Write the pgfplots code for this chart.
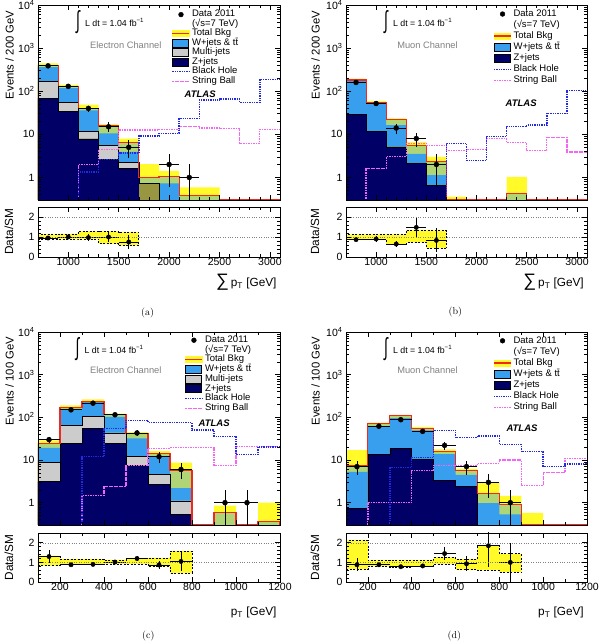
\documentclass[border=0pt]{standalone}
\usepackage{fontspec}
\setsansfont{Liberation Sans}
\renewcommand{\familydefault}{\sfdefault}
\usepackage{pgfplots}
\usepackage{pgfplotstable}
\pgfplotsset{compat=1.18}

\definecolor{wjblue}{RGB}{56,158,238}
\definecolor{mjgrey}{RGB}{204,204,204}
\definecolor{zjnavy}{RGB}{0,0,102}
\definecolor{bandyellow}{RGB}{255,250,40}
\definecolor{wjmix}{RGB}{175,213,119}
\definecolor{mjmix}{RGB}{235,232,106}
\definecolor{zjmix}{RGB}{153,150,65}
\definecolor{totred}{RGB}{240,40,30}
\definecolor{bhblue}{RGB}{35,40,225}
\definecolor{sbmag}{RGB}{245,100,245}
\definecolor{chgrey}{RGB}{128,128,128}

\newcommand{\tfont}{\fontsize{10.5}{12}\selectfont}
\newcommand{\lfont}{\fontsize{9.5}{10}\selectfont}
\newcommand{\yfont}{\fontsize{11.3}{13}\selectfont}
\newcommand{\xfont}{\fontsize{11.8}{13}\selectfont}

% Histograms by low bin edge. First and last rows sit on the floor (0.1) so the
% filled areas close; the row before the last repeats the final bin.
% hi = upper edge of the background uncertainty, tot = total background,
% tlo = min(tot, lower band edge), mj = Z+jets + multi-jets, mlo = min(mj, lower edge),
% z = Z+jets, zlo = min(z, lower edge), bh = black hole, sb = string ball
\pgfplotstableread{
x    hi    tot   tlo   mj    mlo   z     zlo   bh    sb
700  0.1   0.1   0.1   0.1   0.1   0.1   0.1   nan   nan
700  440   390   360   172   172   68    68    0.01  0.01
900  141   127   118   54    54    33.5  33.5  0.01  0.01
1100 49    39    36    11.9  11.9  7.8   7.8   1.35  2.0
1300 17    15.6  10.5  5.5   5.5   2.6   2.6   2.6   4.5
1500 8.0   6.5   3.9   2.2   2.2   1.6   1.6   3.7   12.6
1700 2.04  1.0   0.1   0.73  0.1   0.73  0.1   9.1   12.6
1900 1.43  1.07  0.73  0.01  0.01  0.01  0.01  10.5  13
2100 0.59  0.39  0.1   0.01  0.01  0.01  0.01  23.4  15.5
2300 0.59  0.39  0.1   0.01  0.01  0.01  0.01  62    14
2500 0.1   0.31  0.1   0.01  0.01  0.01  0.01  66    13.7
2700 0.1   0.31  0.1   0.01  0.01  0.01  0.01  55    6.2
2900 0.1   0.31  0.1   0.01  0.01  0.01  0.01  190   13.2
3100 0.1   0.31  0.1   0.01  0.01  0.01  0.01  190   13.2
3100 0.1   0.1   0.1   0.1   0.1   0.1   0.1   nan   nan
}\taba

\pgfplotstableread{
x    hi    tot   tlo   mj    mlo   z     zlo   bh    sb
700  0.1   0.1   0.1   0.1   0.1   0.1   0.1   nan   nan
700  195   182   172   29    29    29    29    0.01  0.01
900  59    56    50    11.9  11.9  11.9  11.9  0.01  1.6
1100 23.4  22    16.4  5.1   5.1   5.1   5.1   0.01  3.0
1300 6.7   5.6   3.5   2.1   2.1   2.1   2.1   0.01  6.2
1500 3.0   2.3   1.13  0.66  0.66  0.66  0.66  0.01  5.6
1700 0.36  0.31  0.1   0.01  0.01  0.01  0.01  6.2   4.2
1900 0.1   0.31  0.1   0.01  0.01  0.01  0.01  2.5   4.5
2100 0.1   0.31  0.1   0.01  0.01  0.01  0.01  8.8   8.0
2300 1.03  0.42  0.1   0.01  0.01  0.01  0.01  15    6.5
2500 0.1   0.31  0.1   0.01  0.01  0.01  0.01  16.4  4.2
2700 0.1   0.31  0.1   0.01  0.01  0.01  0.01  30.6  8.5
2900 0.1   0.31  0.1   0.01  0.01  0.01  0.01  103   3.9
3100 0.1   0.31  0.1   0.01  0.01  0.01  0.01  103   3.9
3100 0.1   0.1   0.1   0.1   0.1   0.1   0.1   nan   nan
}\tabb

\pgfplotstableread{
x    hi    tot   tlo   mj    mlo   z     zlo   bh    sb
100  0.1   0.1   0.1   0.1   0.1   0.1   0.1   nan   nan
100  29    24    19.3  8.7   8.7   3.1   3.1   0.01  0.01
200  190   167   158   65    65    24.4  24.4  0.01  0.01
300  262   239   226   105   105   54.5  54.5  11.9  1.5
400  122   115   102   43    43    25    25    54.5  2.4
500  45    41    32    12    12    7.4   7.4   85    7.4
600  16.2  14.3  12    4.6   4.6   2.7   2.7   75    18.7
700  8.7   5.6   2.2   1.1   1.1   0.53  0.53  75    19.3
800  0.1   0.31  0.1   0.01  0.01  0.01  0.01  50    19.3
900  0.85  0.58  0.1   0.01  0.01  0.01  0.01  36    7.4
1000 0.1   0.31  0.1   0.01  0.01  0.01  0.01  13.5  20.4
1100 1.0   0.37  0.1   0.01  0.01  0.01  0.01  20.4  20.4
1200 1.0   0.37  0.1   0.01  0.01  0.01  0.01  20.4  20.4
1200 0.1   0.1   0.1   0.1   0.1   0.1   0.1   nan   nan
}\tabc

\pgfplotstableread{
x    hi    tot   tlo   mj    mlo   z     zlo   bh    sb
100  0.1   0.1   0.1   0.1   0.1   0.1   0.1   nan   nan
100  17    7.6   5.3   0.72  0.72  0.72  0.72  0.01  0.01
200  75    71    61.6  13.5  13.5  13.5  13.5  0.01  1.0
300  115   111   96    18.7  18.7  18.7  18.7  6.6   1.0
400  59    56    49.6  10.3  10.3  10.3  10.3  11.3  5.6
500  17.7  16.2  13.8  3.3   3.3   3.3   3.3   49.6  7.6
600  6.2   5.8   4.5   2.4   2.4   2.4   2.4   33.5  7.4
700  2.86  1.68  0.98  0.01  0.01  0.01  0.01  36.6  8.4
800  1.45  0.9   0.53  0.01  0.01  0.01  0.01  23.1  10
900  0.58  0.31  0.1   0.01  0.01  0.01  0.01  15.6  2.5
1000 0.1   0.31  0.1   0.01  0.01  0.01  0.01  7     5
1100 0.1   0.31  0.1   0.01  0.01  0.01  0.01  8.1   10.9
1200 0.1   0.31  0.1   0.01  0.01  0.01  0.01  8.1   10.9
1200 0.1   0.1   0.1   0.1   0.1   0.1   0.1   nan   nan
}\tabd

% Data/SM uncertainty bands: fhi/flo filled, hl/ll outlines
\pgfplotstableread{
x    fhi   flo   hl    ll
700  0     0     0.9   nan
700  1.12  0.9   1.12  0.9
900  1.15  0.9   1.15  0.9
1100 1.28  0.9   1.28  0.9
1300 1.28  0.67  1.28  0.67
1500 1.23  0.58  1.23  0.58
1700 1.23  0.58  1.23  0.58
1700 0     0     0.58  nan
}\rata
\pgfplotstableread{
x    fhi   flo   hl    ll
700  0     0     0.87  nan
700  1.12  0.87  1.12  0.87
900  1.12  0.9   1.12  0.9
1100 1.12  0.62  1.12  0.62
1300 1.33  0.73  1.33  0.73
1500 1.32  0.45  1.32  0.45
1700 1.32  0.45  1.32  0.45
1700 0     0     0.45  nan
}\ratb
\pgfplotstableread{
x    fhi   flo   hl    ll
100  0     0     0.83  nan
100  1.33  0.83  1.33  0.83
200  1.17  0.88  1.17  0.88
300  1.17  0.88  1.17  0.88
400  1.13  0.92  1.13  0.92
500  1.22  0.92  1.22  0.92
600  1.22  0.8   1.22  0.8
700  1.57  0.46  1.57  0.46
800  1.57  0.46  1.57  0.46
800  0     0     0.46  nan
}\ratc
\pgfplotstableread{
x    fhi   flo   hl    ll
100  0     0     0.66  nan
100  2.13  0.66  2.13  0.66
200  1.1   0.8   1.1   0.8
300  1.1   0.77  1.1   0.77
400  1.1   0.8   1.1   0.8
500  1.25  0.92  1.25  0.92
600  1.17  0.63  1.17  0.63
700  1.88  0.6   1.88  0.6
800  1.44  0.5   1.44  0.5
900  1.44  0.5   1.44  0.5
900  0     0     0.5   nan
}\ratd

% stacked backgrounds with the uncertainty band blended over them, then signals
\newcommand{\drawmain}[1]{%
  \addplot[const plot, fill=bandyellow, draw=none, forget plot] table[x=x,y=hi]{#1};
  \addplot[const plot, fill=wjmix, draw=none, forget plot] table[x=x,y=tot]{#1};
  \addplot[const plot, fill=wjblue, draw=none, forget plot] table[x=x,y=tlo]{#1};
  \addplot[const plot, fill=mjmix, draw=none, forget plot] table[x=x,y=mj]{#1};
  \addplot[const plot, fill=mjgrey, draw=none, forget plot] table[x=x,y=mlo]{#1};
  \addplot[const plot, fill=zjmix, draw=none, forget plot] table[x=x,y=z]{#1};
  \addplot[const plot, fill=zjnavy, draw=none, forget plot] table[x=x,y=zlo]{#1};
  \addplot[const plot, black, line width=0.6pt, forget plot] table[x=x,y=mj]{#1};
  \addplot[const plot, black, line width=0.6pt, forget plot] table[x=x,y=z]{#1};
  \addplot[const plot, totred, line width=1.1pt, forget plot] table[x=x,y=tot]{#1};
  \addplot[const plot, sbmag, line width=1.2pt, dash pattern=on 1.6pt off 0.9pt, forget plot] table[x=x,y=sb]{#1};
  \addplot[const plot, bhblue, line width=1.4pt, dash pattern=on 1.3pt off 1pt, forget plot] table[x=x,y=bh]{#1};
}

\newcommand{\drawratio}[1]{%
  \addplot[const plot, fill=bandyellow, draw=none, forget plot] table[x=x,y=fhi]{#1};
  \addplot[const plot, fill=white, draw=none, forget plot] table[x=x,y=flo]{#1};
  \addplot[const plot, black, line width=0.7pt, dash pattern=on 2pt off 1.5pt, forget plot] table[x=x,y=hl]{#1};
  \addplot[const plot, black, line width=0.7pt, dash pattern=on 2pt off 1.5pt, forget plot] table[x=x,y=ll]{#1};
}

\newcommand{\legtop}{%
  \addlegendimage{only marks, mark=*, mark size=2.4pt, black}
  \addlegendentry{Data 2011}
  \addlegendimage{empty legend}
  \addlegendentry{(√s=7 TeV)}
  \addlegendimage{legend image code/.code={\fill[bandyellow] (0pt,-3pt) rectangle (16.6pt,3pt);
    \draw[totred, line width=1.5pt] (0pt,0pt) -- (16.6pt,0pt);}}
  \addlegendentry{Total Bkg}
  \addlegendimage{legend image code/.code={\draw[fill=wjblue, line width=0.6pt] (0.3pt,-4pt) rectangle (16.3pt,4pt);}}
  \addlegendentry{W+jets {\&} tt̄}
}
\newcommand{\legmj}{%
  \addlegendimage{legend image code/.code={\draw[fill=mjgrey, line width=0.6pt] (0.3pt,-4pt) rectangle (16.3pt,4pt);}}
  \addlegendentry{Multi-jets}
}
\newcommand{\legbottom}{%
  \addlegendimage{legend image code/.code={\draw[fill=zjnavy, line width=0.6pt] (0.3pt,-4pt) rectangle (16.3pt,4pt);}}
  \addlegendentry{Z+jets}
  \addlegendimage{legend image code/.code={\draw[bhblue, line width=1.5pt, dash pattern=on 1.3pt off 1pt] (0pt,0pt) -- (16.6pt,0pt);}}
  \addlegendentry{Black Hole}
  \addlegendimage{legend image code/.code={\draw[sbmag, line width=1.2pt, dash pattern=on 1.6pt off 0.9pt] (0pt,0pt) -- (16.6pt,0pt);}}
  \addlegendentry{String Ball}
}

\begin{document}
\begin{tikzpicture}[x=1pt,y=1pt]
\useasboundingbox (0,0) rectangle (599,643);

%================ (a) electron channel, sum pT
\begin{axis}[scale only axis, anchor=south west, at={(38pt,443pt)}, width=242pt, height=195pt,
  axis on top, tick align=inside, major tick length=5pt, minor tick length=2.6pt,
  axis line style={line width=0.7pt}, tick style={line width=0.6pt, black},
  ticklabel style={font=\tfont},
  ymode=log, ymin=0.3, ymax=10000,
  ytick={1,10,100,1000,10000},
  yticklabels={1,10,10\textsuperscript{2},10\textsuperscript{3},10\textsuperscript{4}},
  minor ytick={0.4,0.5,0.6,0.7,0.8,0.9,2,3,4,5,6,7,8,9,20,30,40,50,60,70,80,90,
      200,300,400,500,600,700,800,900,2000,3000,4000,5000,6000,7000,8000,9000},
  xmin=700, xmax=3100, xtick={1000,1500,2000,2500,3000}, minor x tick num=4,
  xticklabels={},
  legend cell align=left,
  legend style={at={(0.5525,0.975)}, anchor=north west, draw=none, fill=none,
    inner sep=0pt, outer sep=0pt, column sep=1.8pt, font=\lfont,
    nodes={inner sep=0.45pt, text height=6.6pt, text depth=2pt}}]
\drawmain{\taba}
\addplot[only marks, mark=*, mark size=2.5pt, black, forget plot,
  error bars/x dir=both, error bars/x explicit, error bars/y dir=both, error bars/y explicit,
  error bars/error mark=none, error bars/error bar style={line width=0.8pt, black}] coordinates {
  (800,388) +- (100,20) (1000,130) +- (100,11.4) (1200,40) +- (100,6.3)
  (1400,15) +- (100,3.9) (1600,5) +- (100,2.2) (2000,2) +- (100,1.41)
  (2200,1) += (100,1) -= (100,0.99)};
\legtop\legmj\legbottom
\end{axis}
\begin{axis}[scale only axis, anchor=south west, at={(38pt,386pt)}, width=242pt, height=50pt,
  axis on top, tick align=inside, major tick length=5pt, minor tick length=2.6pt,
  axis line style={line width=0.7pt}, tick style={line width=0.6pt, black},
  ticklabel style={font=\tfont}, xticklabel style={inner sep=1pt},
  ymin=0, ymax=2.5, ytick={0,1,2}, yticklabels={0,1,2}, minor y tick num=4,
  ymajorgrids, major grid style={gray, dotted, line width=0.5pt},
  xmin=700, xmax=3100, xtick={1000,1500,2000,2500,3000},
  xticklabels={1000,1500,2000,2500,3000}, minor x tick num=4]
\drawratio{\rata}
\addplot[only marks, mark=*, mark size=2.2pt, black, forget plot,
  error bars/x dir=both, error bars/x explicit, error bars/y dir=both, error bars/y explicit,
  error bars/error mark=none, error bars/error bar style={line width=0.8pt, black}] coordinates {
  (800,0.95) +- (100,0.05) (1000,1.0) +- (100,0.09) (1200,0.97) +- (100,0.16)
  (1400,1.0) +- (100,0.27) (1600,0.75) +- (100,0.33)};
\end{axis}

%================ (b) muon channel, sum pT
\begin{axis}[scale only axis, anchor=south west, at={(346pt,443pt)}, width=241pt, height=195pt,
  axis on top, tick align=inside, major tick length=5pt, minor tick length=2.6pt,
  axis line style={line width=0.7pt}, tick style={line width=0.6pt, black},
  ticklabel style={font=\tfont},
  ymode=log, ymin=0.3, ymax=10000,
  ytick={1,10,100,1000,10000},
  yticklabels={1,10,10\textsuperscript{2},10\textsuperscript{3},10\textsuperscript{4}},
  minor ytick={0.4,0.5,0.6,0.7,0.8,0.9,2,3,4,5,6,7,8,9,20,30,40,50,60,70,80,90,
      200,300,400,500,600,700,800,900,2000,3000,4000,5000,6000,7000,8000,9000},
  xmin=700, xmax=3100, xtick={1000,1500,2000,2500,3000}, minor x tick num=4,
  xticklabels={},
  legend cell align=left,
  legend style={at={(0.611,0.978)}, anchor=north west, draw=none, fill=none,
    inner sep=0pt, outer sep=0pt, column sep=1.8pt, row sep=1.6pt, font=\lfont,
    nodes={inner sep=0.45pt, text height=6.6pt, text depth=2pt}}]
\drawmain{\tabb}
\addplot[only marks, mark=*, mark size=2.5pt, black, forget plot,
  error bars/x dir=both, error bars/x explicit, error bars/y dir=both, error bars/y explicit,
  error bars/error mark=none, error bars/error bar style={line width=0.8pt, black}] coordinates {
  (800,160) +- (100,12.6) (1000,52) +- (100,7.2) (1200,14) +- (100,3.7)
  (1400,8) +- (100,2.8) (1600,2) +- (100,1.41)};
\legtop\legbottom
\end{axis}
\begin{axis}[scale only axis, anchor=south west, at={(346pt,386pt)}, width=241pt, height=50pt,
  axis on top, tick align=inside, major tick length=5pt, minor tick length=2.6pt,
  axis line style={line width=0.7pt}, tick style={line width=0.6pt, black},
  ticklabel style={font=\tfont}, xticklabel style={inner sep=1pt},
  ymin=0, ymax=2.5, ytick={0,1,2}, yticklabels={0,1,2}, minor y tick num=4,
  ymajorgrids, major grid style={gray, dotted, line width=0.5pt},
  xmin=700, xmax=3100, xtick={1000,1500,2000,2500,3000},
  xticklabels={1000,1500,2000,2500,3000}, minor x tick num=4]
\drawratio{\ratb}
\addplot[only marks, mark=*, mark size=2.2pt, black, forget plot,
  error bars/x dir=both, error bars/x explicit, error bars/y dir=both, error bars/y explicit,
  error bars/error mark=none, error bars/error bar style={line width=0.8pt, black}] coordinates {
  (800,0.87) +- (100,0.07) (1000,0.9) +- (100,0.13) (1200,0.65) +- (100,0.17)
  (1400,1.48) +- (100,0.53) (1600,0.83) +- (100,0.6)};
\end{axis}

%================ (c) electron channel, leading pT
\begin{axis}[scale only axis, anchor=south west, at={(38pt,118pt)}, width=242pt, height=193pt,
  axis on top, tick align=inside, major tick length=5pt, minor tick length=2.6pt,
  axis line style={line width=0.7pt}, tick style={line width=0.6pt, black},
  ticklabel style={font=\tfont},
  ymode=log, ymin=0.3, ymax=10000,
  ytick={1,10,100,1000,10000},
  yticklabels={1,10,10\textsuperscript{2},10\textsuperscript{3},10\textsuperscript{4}},
  minor ytick={0.4,0.5,0.6,0.7,0.8,0.9,2,3,4,5,6,7,8,9,20,30,40,50,60,70,80,90,
      200,300,400,500,600,700,800,900,2000,3000,4000,5000,6000,7000,8000,9000},
  xmin=100, xmax=1200, xtick={200,400,600,800,1000,1200}, minor x tick num=1,
  xticklabels={},
  legend cell align=left,
  legend style={at={(0.606,0.982)}, anchor=north west, draw=none, fill=none,
    inner sep=0pt, outer sep=0pt, column sep=1.8pt, row sep=0.2pt, font=\lfont,
    nodes={inner sep=0.45pt, text height=6.6pt, text depth=2pt}}]
\drawmain{\tabc}
\addplot[only marks, mark=*, mark size=2.5pt, black, forget plot,
  error bars/x dir=both, error bars/x explicit, error bars/y dir=both, error bars/y explicit,
  error bars/error mark=none, error bars/error bar style={line width=0.8pt, black}] coordinates {
  (150,30) +- (50,5.5) (250,150) +- (50,12.2) (350,215) +- (50,14.7)
  (450,115) +- (50,10.7) (550,43) +- (50,6.6) (650,12) +- (50,3.5)
  (750,6) +- (50,2.45) (950,1) += (50,1) -= (50,0.99) (1050,1) += (50,1) -= (50,0.99)};
\legtop\legmj\legbottom
\end{axis}
\begin{axis}[scale only axis, anchor=south west, at={(38pt,61pt)}, width=242pt, height=49pt,
  axis on top, tick align=inside, major tick length=5pt, minor tick length=2.6pt,
  axis line style={line width=0.7pt}, tick style={line width=0.6pt, black},
  ticklabel style={font=\tfont}, xticklabel style={inner sep=1pt},
  ymin=0, ymax=2.5, ytick={0,1,2}, yticklabels={0,1,2}, minor y tick num=4,
  ymajorgrids, major grid style={gray, dotted, line width=0.5pt},
  xmin=100, xmax=1200, xtick={200,400,600,800,1000,1200},
  xticklabels={200,400,600,800,1000,1200}, minor x tick num=1]
\drawratio{\ratc}
\addplot[only marks, mark=*, mark size=2.2pt, black, forget plot,
  error bars/x dir=both, error bars/x explicit, error bars/y dir=both, error bars/y explicit,
  error bars/error mark=none, error bars/error bar style={line width=0.8pt, black}] coordinates {
  (150,1.3) +- (50,0.33) (250,0.88) +- (50,0.07) (350,0.9) +- (50,0.06)
  (450,1.02) +- (50,0.1) (550,1.2) +- (50,0.15) (650,0.87) +- (50,0.22)
  (750,1.05) +- (50,0.5)};
\end{axis}

%================ (d) muon channel, leading pT
\begin{axis}[scale only axis, anchor=south west, at={(346pt,118pt)}, width=241pt, height=193pt,
  axis on top, tick align=inside, major tick length=5pt, minor tick length=2.6pt,
  axis line style={line width=0.7pt}, tick style={line width=0.6pt, black},
  ticklabel style={font=\tfont},
  ymode=log, ymin=0.3, ymax=10000,
  ytick={1,10,100,1000,10000},
  yticklabels={1,10,10\textsuperscript{2},10\textsuperscript{3},10\textsuperscript{4}},
  minor ytick={0.4,0.5,0.6,0.7,0.8,0.9,2,3,4,5,6,7,8,9,20,30,40,50,60,70,80,90,
      200,300,400,500,600,700,800,900,2000,3000,4000,5000,6000,7000,8000,9000},
  xmin=100, xmax=1200, xtick={200,400,600,800,1000,1200}, minor x tick num=1,
  xticklabels={},
  legend cell align=left,
  legend style={at={(0.611,0.979)}, anchor=north west, draw=none, fill=none,
    inner sep=0pt, outer sep=0pt, column sep=1.8pt, row sep=1.6pt, font=\lfont,
    nodes={inner sep=0.45pt, text height=6.6pt, text depth=2pt}}]
\drawmain{\tabd}
\addplot[only marks, mark=*, mark size=2.5pt, black, forget plot,
  error bars/x dir=both, error bars/x explicit, error bars/y dir=both, error bars/y explicit,
  error bars/error mark=none, error bars/error bar style={line width=0.8pt, black}] coordinates {
  (150,7) +- (50,2.6) (250,62) +- (50,7.9) (350,88) +- (50,9.4)
  (450,47) +- (50,6.9) (550,22) +- (50,4.7) (650,7) +- (50,2.6)
  (750,3) +- (50,1.7) (850,1) += (50,1) -= (50,0.99)};
\legtop\legbottom
\end{axis}
\begin{axis}[scale only axis, anchor=south west, at={(346pt,61pt)}, width=241pt, height=49pt,
  axis on top, tick align=inside, major tick length=5pt, minor tick length=2.6pt,
  axis line style={line width=0.7pt}, tick style={line width=0.6pt, black},
  ticklabel style={font=\tfont}, xticklabel style={inner sep=1pt},
  ymin=0, ymax=2.5, ytick={0,1,2}, yticklabels={0,1,2}, minor y tick num=4,
  ymajorgrids, major grid style={gray, dotted, line width=0.5pt},
  xmin=100, xmax=1200, xtick={200,400,600,800,1000,1200},
  xticklabels={200,400,600,800,1000,1200}, minor x tick num=1]
\drawratio{\ratd}
\addplot[only marks, mark=*, mark size=2.2pt, black, forget plot,
  error bars/x dir=both, error bars/x explicit, error bars/y dir=both, error bars/y explicit,
  error bars/error mark=none, error bars/error bar style={line width=0.8pt, black}] coordinates {
  (150,0.88) +- (50,0.33) (250,0.88) +- (50,0.11) (350,0.78) +- (50,0.09)
  (450,0.82) +- (50,0.12) (550,1.45) +- (50,0.33) (650,0.93) +- (50,0.38)
  (750,1.85) +- (50,1.07) (850,1.0) +- (50,1.0)};
\end{axis}

%================ titles and annotations
% (a)
\node[rotate=90, anchor=east, font=\yfont] at (9.5,636) {Events / 200 GeV};
\node[rotate=90, font=\xfont] at (9,411.3) {Data/SM};
\node[anchor=base east, font=\xfont] at (280,356.3) {{\fontsize{18}{18}\selectfont ∑}\,p\textsubscript{T} [GeV]};
\node[font=\rmfamily\fontsize{10}{12}\selectfont] at (147.5,330) {(a)};
\node[font=\fontsize{14}{14}\selectfont, yscale=1.75] at (78,620.5) {∫};
\node[anchor=base west, font=\fontsize{8.8}{10}\selectfont] at (81.5,616.4) {L dt = 1.04 fb\textsuperscript{−1}};
\node[font=\fontsize{9.3}{11}\selectfont, text=chgrey] at (125.8,598) {Electron Channel};
\node[font=\fontsize{9.5}{11}\selectfont\bfseries\itshape] at (200.2,548.7) {ATLAS};
% (b)
\node[rotate=90, anchor=east, font=\yfont] at (315.5,636) {Events / 200 GeV};
\node[rotate=90, font=\xfont] at (315,411.3) {Data/SM};
\node[anchor=base east, font=\xfont] at (587.3,356.3) {{\fontsize{18}{18}\selectfont ∑}\,p\textsubscript{T} [GeV]};
\node[font=\rmfamily\fontsize{10}{12}\selectfont] at (455.3,330.5) {(b)};
\node[font=\fontsize{14}{14}\selectfont, yscale=1.75] at (386,620.5) {∫};
\node[anchor=base west, font=\fontsize{8.8}{10}\selectfont] at (389.5,616.4) {L dt = 1.04 fb\textsuperscript{−1}};
\node[font=\fontsize{9.3}{11}\selectfont, text=chgrey] at (427.5,597.7) {Muon Channel};
\node[font=\fontsize{9.5}{11}\selectfont\bfseries\itshape] at (521.2,539.7) {ATLAS};
% (c)
\node[rotate=90, anchor=east, font=\yfont] at (9.5,309.7) {Events / 100 GeV};
\node[rotate=90, font=\xfont] at (9,85.5) {Data/SM};
\node[anchor=base east, font=\xfont] at (280,27.3) {p\textsubscript{T} [GeV]};
\node[font=\rmfamily\fontsize{10}{12}\selectfont] at (148.3,7.3) {(c)};
\node[font=\fontsize{14}{14}\selectfont, yscale=1.75] at (77.5,294) {∫};
\node[anchor=base west, font=\fontsize{8.8}{10}\selectfont] at (81,289.7) {L dt = 1.04 fb\textsuperscript{−1}};
\node[font=\fontsize{9.3}{11}\selectfont, text=chgrey] at (125.8,273) {Electron Channel};
\node[font=\fontsize{9.5}{11}\selectfont\bfseries\itshape] at (214.2,220) {ATLAS};
% (d)
\node[rotate=90, anchor=east, font=\yfont] at (315.5,309.7) {Events / 100 GeV};
\node[rotate=90, font=\xfont] at (315,85.7) {Data/SM};
\node[anchor=base east, font=\xfont] at (587.3,27.3) {p\textsubscript{T} [GeV]};
\node[font=\rmfamily\fontsize{10}{12}\selectfont] at (454.3,7.3) {(d)};
\node[font=\fontsize{14}{14}\selectfont, yscale=1.75] at (386,294) {∫};
\node[anchor=base west, font=\fontsize{8.8}{10}\selectfont] at (389.5,289.7) {L dt = 1.04 fb\textsuperscript{−1}};
\node[font=\fontsize{9.3}{11}\selectfont, text=chgrey] at (427.5,273) {Muon Channel};
\node[font=\fontsize{9.5}{11}\selectfont\bfseries\itshape] at (522,214.5) {ATLAS};
\end{tikzpicture}
\end{document}
